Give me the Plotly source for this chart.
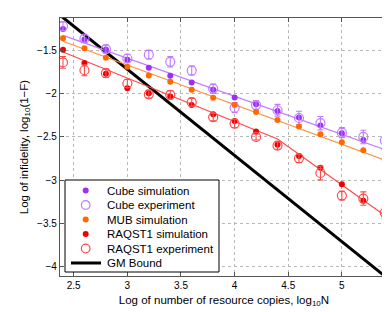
import plotly.graph_objects as go

# ---- data ----
log_n = [2.4, 2.6, 2.8, 3.0, 3.2, 3.4, 3.6, 3.8, 4.0, 4.2, 4.4, 4.6, 4.8, 5.0, 5.2, 5.4]

cube_sim = [-1.248, -1.370, -1.484, -1.605, -1.697, -1.790, -1.868, -1.953,
            -2.042, -2.120, -2.200, -2.275, -2.368, -2.457, -2.535, -2.643]
cube_exp = [-1.215, -1.360, -1.480, -1.590, -1.545, -1.628, -1.730, -1.940,
            -2.160, -2.130, -2.190, -2.280, -2.340, -2.450, -2.500, -2.540]
cube_exp_err = [0.052, 0.043, 0.045, 0.050, 0.050, 0.060, 0.052, 0.054,
                0.058, 0.052, 0.068, 0.078, 0.078, 0.058, 0.078, 0.040]

mub_sim = [-1.354, -1.472, -1.580, -1.686, -1.788, -1.860, -1.953, -2.045,
           -2.128, -2.210, -2.302, -2.379, -2.469, -2.562, -2.653, -2.765]

raq_sim = [-1.488, -1.643, -1.767, -1.934, -1.992, -2.030, -2.128, -2.236,
           -2.314, -2.438, -2.590, -2.721, -2.856, -3.050, -3.240, -3.437]
raq_exp = [-1.635, -1.726, -1.760, -1.880, -2.005, -2.012, -2.097, -2.270,
           -2.345, -2.500, -2.600, -2.748, -2.918, -3.180, -3.215, -3.380]
raq_exp_err = [0.068, 0.064, 0.050, 0.047, 0.045, 0.048, 0.045, 0.043,
               0.048, 0.035, 0.043, 0.048, 0.080, 0.050, 0.078, 0.068]

# fitted trend lines
cube_fit_x = [2.4, 5.4]
cube_fit_y = [-1.321, -2.646]
mub_fit_x = [2.4, 5.4]
mub_fit_y = [-1.390, -2.768]
raq_fit_x = [2.4, 4.4, 5.4]
raq_fit_y = [-1.515, -2.523, -3.410]

# GM bound
gm_x = [2.3, 5.5]
gm_y = [-1.015, -4.215]

x_ticks = [2.5, 3, 3.5, 4, 4.5, 5]
y_ticks = [-4, -3.5, -3, -2.5, -2, -1.5]

legend_labels = ["Cube simulation", "Cube experiment", "MUB simulation",
                 "RAQST1 simulation", "RAQST1 experiment", "GM Bound"]

# ---- colours ----
C_CUBE = "#9b30f5"
C_CUBE_L = "#c27bff"
C_MUB = "#ff6a00"
C_MUB_L = "#ff8f40"
C_RAQ = "#ee0000"
C_RAQ_L = "#ff4a4a"

FONT = "Liberation Sans, Arial, Helvetica, sans-serif"

fig = go.Figure()

# GM bound
fig.add_trace(go.Scatter(x=gm_x, y=gm_y, mode="lines", name=legend_labels[5],
                         line=dict(color="black", width=3), showlegend=False))

# fit lines
fig.add_trace(go.Scatter(x=cube_fit_x, y=cube_fit_y, mode="lines", showlegend=False,
                         line=dict(color=C_CUBE_L, width=1.2), hoverinfo="skip"))
fig.add_trace(go.Scatter(x=mub_fit_x, y=mub_fit_y, mode="lines", showlegend=False,
                         line=dict(color=C_MUB_L, width=1.2), hoverinfo="skip"))
fig.add_trace(go.Scatter(x=raq_fit_x, y=raq_fit_y, mode="lines", showlegend=False,
                         line=dict(color=C_RAQ_L, width=1.2), hoverinfo="skip"))

# markers
fig.add_trace(go.Scatter(x=log_n, y=cube_sim, mode="markers", name=legend_labels[0],
                         marker=dict(color=C_CUBE, size=6, symbol="circle"),
                         showlegend=False))
fig.add_trace(go.Scatter(x=log_n, y=cube_exp, mode="markers", name=legend_labels[1],
                         marker=dict(color=C_CUBE_L, size=9, symbol="circle-open",
                                     line=dict(width=1.2)),
                         error_y=dict(type="data", array=cube_exp_err, visible=True,
                                      color=C_CUBE_L, thickness=1.1, width=3),
                         showlegend=False))
fig.add_trace(go.Scatter(x=log_n, y=mub_sim, mode="markers", name=legend_labels[2],
                         marker=dict(color=C_MUB, size=6, symbol="circle"),
                         showlegend=False))
fig.add_trace(go.Scatter(x=log_n, y=raq_sim, mode="markers", name=legend_labels[3],
                         marker=dict(color=C_RAQ, size=6, symbol="circle"),
                         showlegend=False))
fig.add_trace(go.Scatter(x=log_n, y=raq_exp, mode="markers", name=legend_labels[4],
                         marker=dict(color=C_RAQ_L, size=9, symbol="circle-open",
                                     line=dict(width=1.2)),
                         error_y=dict(type="data", array=raq_exp_err, visible=True,
                                      color=C_RAQ_L, thickness=1.1, width=3),
                         showlegend=False))

# ---- compact legend (matches reference spacing) ----
PLOT_L, PLOT_R, PLOT_T, PLOT_B = 52, 380, 10, 268
def px_x(p):
    return (p - PLOT_L) / (PLOT_R - PLOT_L)
def px_y(p):
    return (PLOT_B - p) / (PLOT_B - PLOT_T)

shapes = [dict(type="rect", xref="paper", yref="paper",
               x0=px_x(57), x1=px_x(211), y0=px_y(264), y1=px_y(172),
               fillcolor="white", line=dict(color="black", width=1), layer="above")]
annotations = []
entry_py = [182.5, 197, 211.5, 226, 240.5, 255]
sym_styles = [("fill", C_CUBE), ("open", C_CUBE_L), ("fill", C_MUB),
              ("fill", C_RAQ), ("open", C_RAQ_L), ("line", "black")]
for lbl, py, (kind, col) in zip(legend_labels, entry_py, sym_styles):
    yy = px_y(py)
    if kind == "fill":
        shapes.append(dict(type="circle", xref="paper", yref="paper",
                           xsizemode="pixel", ysizemode="pixel",
                           xanchor=px_x(77.7), yanchor=yy,
                           x0=-3, x1=3, y0=-3, y1=3,
                           fillcolor=col, line=dict(color=col, width=0), layer="above"))
    elif kind == "open":
        shapes.append(dict(type="circle", xref="paper", yref="paper",
                           xsizemode="pixel", ysizemode="pixel",
                           xanchor=px_x(77.7), yanchor=yy,
                           x0=-4.3, x1=4.3, y0=-4.3, y1=4.3,
                           fillcolor="rgba(0,0,0,0)", line=dict(color=col, width=1.2),
                           layer="above"))
    else:
        shapes.append(dict(type="line", xref="paper", yref="paper",
                           x0=px_x(63), x1=px_x(93), y0=yy, y1=yy,
                           line=dict(color=col, width=3), layer="above"))
    annotations.append(dict(text=lbl, xref="paper", yref="paper",
                            x=px_x(96.5), y=yy, xanchor="left", yanchor="middle",
                            showarrow=False,
                            font=dict(family=FONT, size=11.5, color="black")))

axis_common = dict(
    showgrid=True, gridcolor="#b8b8b8", griddash="dot", gridwidth=1,
    zeroline=False, showline=True, linecolor="#555555", linewidth=1.3,
    mirror="ticks", ticks="inside", ticklen=4, tickcolor="#555555",
    tickfont=dict(family=FONT, size=10, color="black"),
)

fig.update_layout(
    width=390, height=312,
    margin=dict(l=PLOT_L, r=390 - PLOT_R, t=PLOT_T, b=312 - PLOT_B),
    paper_bgcolor="white", plot_bgcolor="white",
    font=dict(family=FONT, color="black"),
    showlegend=False,
    shapes=shapes,
    annotations=annotations,
    xaxis=dict(range=[2.372, 5.43], tickvals=x_ticks,
               ticktext=[str(v) for v in x_ticks],
               title=dict(text="Log of number of resource copies, log<sub>10</sub>N",
                          font=dict(family=FONT, size=11.5), standoff=5),
               **axis_common),
    yaxis=dict(range=[-4.113, -1.12], tickvals=y_ticks,
               ticktext=["\u22124", "\u22123.5", "\u22123", "\u22122.5", "\u22122", "\u22121.5"],
               title=dict(text="Log of infidelity, log<sub>10</sub>(1\u2212F)",
                          font=dict(family=FONT, size=11.5), standoff=6),
               **axis_common),
)

fig.write_html("out.html")
